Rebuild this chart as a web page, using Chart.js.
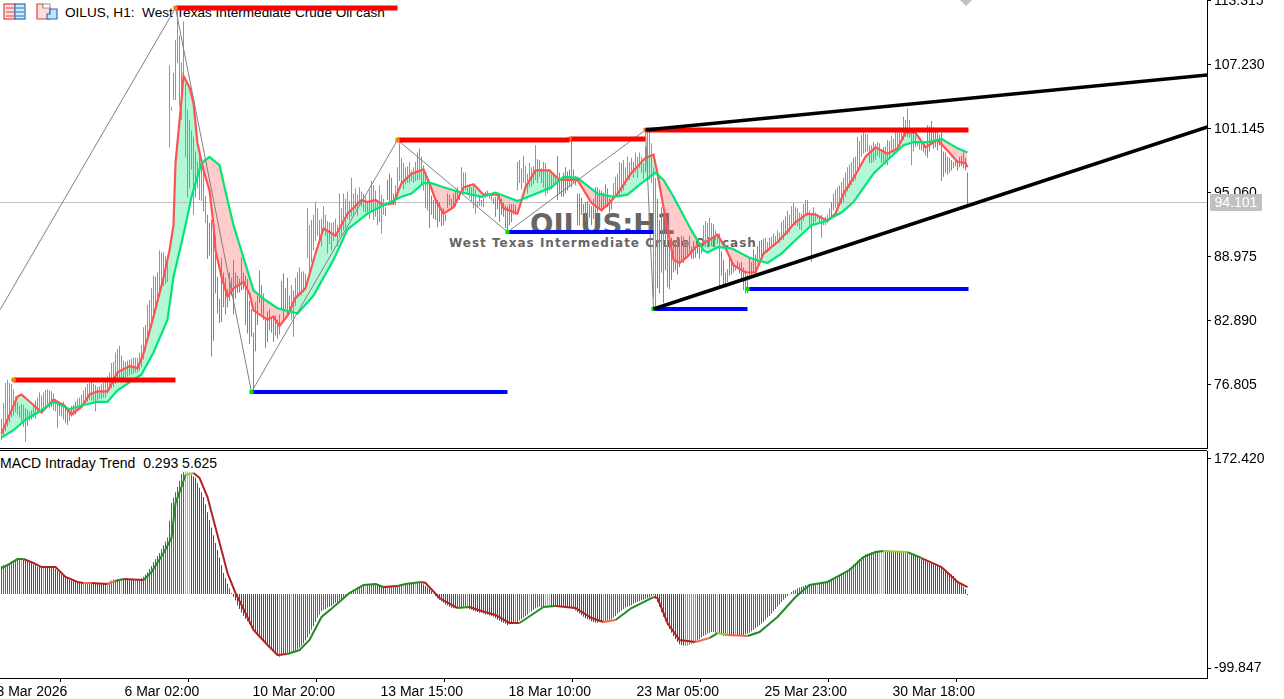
<!DOCTYPE html>
<html>
<head>
<meta charset="utf-8">
<title>OILUS H1</title>
<script src="https://cdn.jsdelivr.net/npm/chart.js@4/dist/chart.umd.min.js"></script>
<style>
  html, body { margin: 0; padding: 0; background: #fff; overflow: hidden; }
  #page { position: relative; width: 1284px; height: 699px; overflow: hidden; font-family: "DejaVu Sans", sans-serif; }
  canvas { position: absolute; left: 0; }
  #chart-main { top: 0; z-index: 2; }
  #chart-macd { top: 451px; z-index: 2; }
  .txt { position: absolute; white-space: pre; color: #000; z-index: 1; }
  #title { left: 65px; top: 5px; font: 13.6px "Liberation Sans", sans-serif; }
  #macd-title { left: 0; top: 455px; font: 14px "Liberation Sans", sans-serif; }
  #wm-big { left: 530px; top: 208px; font: bold 27.5px "DejaVu Sans", sans-serif; color: #666; }
  #wm-small { left: 449px; top: 236px; font: bold 12px "DejaVu Sans", sans-serif; color: #666; letter-spacing: 1px; }
  #price-tag { position: absolute; left: 1210px; top: 194px; width: 52px; height: 17px; background: #c0c0c0; color: #fff; z-index: 3; font: 14px/17px "Liberation Sans", sans-serif; text-align: center; }
  #sep { position: absolute; left: 0; top: 450px; width: 1207px; height: 1px; background: #000; }
  #icons { position: absolute; left: 0; top: 0; z-index: 1; }
</style>
</head>
<body>
<div id="page">
  <svg id="icons" width="980" height="24">
    <rect x="4" y="4" width="11" height="15" fill="#fdd" stroke="#e04040" stroke-width="1.2"/>
    <rect x="15" y="4" width="10" height="15" fill="#cfe8ff" stroke="#2070b8" stroke-width="1.2"/>
    <path d="M6 8h8M6 12h8M6 16h8" stroke="#e04040"/>
    <path d="M16 8h8M16 12h8M16 16h8" stroke="#2070b8"/>
    <path d="M37 4h6v3h7v12H37z" fill="#fdd" stroke="#e04040" stroke-width="1.2"/>
    <path d="M50 9h7v10H47v-5h3z" fill="#bfe2ff" stroke="#2070b8" stroke-width="1.2"/>
    <rect x="43" y="4" width="7" height="4" fill="#fff" stroke="#999"/>
    <polygon points="960,0 972,0 966,6" fill="#c0c0c0"/>
  </svg>
  <div class="txt" id="title">OILUS, H1:  West Texas Intermediate Crude Oil cash</div>
  <div class="txt" id="wm-big">OILUS:H1</div>
  <div class="txt" id="wm-small">West Texas Intermediate Crude Oil cash</div>
  <div class="txt" id="macd-title">MACD Intraday Trend  0.293 5.625</div>
  <div id="sep"></div>
  <canvas id="chart-main" width="1284" height="449"></canvas>
  <canvas id="chart-macd" width="1284" height="248"></canvas>
  <div id="price-tag">94.101</div>
</div>
<script>
// price axis
const priceTicks = [113.315, 107.23, 101.145, 95.06, 88.975, 82.89, 76.805];
const lastPrice = 94.15;

// time axis, bar positions of the labels
const timeTicks = [-2.5, 61.5, 125.5, 189.5, 253.5, 317.5, 381.5, 445.5];
const timeLabels = ['3 Mar 2026', '6 Mar 02:00', '10 Mar 20:00', '13 Mar 15:00', '18 Mar 10:00', '23 Mar 05:00', '25 Mar 23:00', '30 Mar 18:00'];

// H1 bars
const barHigh = [
  73.6,75.1,77.0,77.3,77.0,76.9,76.4,75.7,75.2,74.8,75.0,74.9,74.6,74.5,74.3,74.4,
  74.9,75.3,75.6,76.1,75.8,76.1,76.3,76.4,76.3,76.2,76.0,75.5,75.1,74.9,75.0,75.2,
  74.9,74.7,74.6,74.8,74.9,75.2,75.5,75.6,75.9,76.3,76.6,76.9,77.0,77.1,76.9,76.8,
  76.6,76.7,76.9,77.0,77.1,77.6,78.0,78.9,79.0,79.9,80.2,80.5,79.6,79.1,79.0,79.1,
  79.2,79.3,79.4,79.4,79.4,79.9,80.6,82.3,82.5,84.4,84.9,86.0,87.2,87.1,87.5,89.6,
  89.4,89.4,89.1,89.0,107.2,103.2,106.5,109.6,112.6,110.0,107.5,111.4,105.5,103.0,102.0,101.0,
  100.4,99.0,98.0,98.5,98.2,97.5,94.8,93.0,92.2,92.5,92.0,91.0,87.1,85.0,88.9,87.5,
  87.0,85.9,87.5,87.0,88.7,87.5,87.2,86.9,88.9,87.5,87.2,86.9,84.8,84.0,81.8,84.7,
  85.3,87.7,86.3,85.5,83.3,83.8,84.0,83.2,83.4,83.4,83.0,83.5,86.7,87.4,86.0,87.0,
  85.3,86.3,85.8,87.0,87.5,88.0,87.6,87.6,87.4,93.6,92.0,92.5,93.0,94.2,93.6,92.5,
  92.6,93.8,93.0,92.4,92.3,92.2,92.3,92.6,92.0,95.0,93.6,95.0,94.5,95.2,94.3,96.5,
  95.0,95.5,94.9,95.6,95.2,95.0,94.7,94.3,95.4,96.2,95.8,95.3,94.4,95.8,94.9,94.5,
  93.7,96.3,96.9,96.5,95.0,95.8,97.5,99.8,98.4,97.9,97.5,97.6,98.0,97.2,97.5,98.0,
  98.9,99.3,98.5,97.7,97.0,96.3,95.9,94.8,94.4,94.5,94.4,94.2,93.4,93.6,93.0,95.0,
  94.9,94.5,95.0,95.3,95.6,95.0,97.5,97.0,97.0,95.8,95.9,95.6,95.8,95.4,94.3,94.9,
  94.4,94.6,95.2,95.3,95.0,94.9,94.6,94.7,94.6,95.0,94.5,94.2,93.9,93.8,94.0,94.0,
  94.0,93.9,98.0,98.2,97.4,98.6,97.6,96.9,97.9,97.5,97.6,99.6,98.3,98.2,97.4,98.0,
  97.9,97.3,97.0,97.0,96.8,96.6,98.6,97.0,96.5,97.0,97.5,97.1,97.3,100.1,97.3,96.7,
  95.0,95.0,94.6,94.0,94.2,94.3,94.0,93.8,94.5,95.6,95.6,95.4,95.3,95.1,95.9,95.5,
  94.5,94.3,96.0,96.6,96.9,98.0,97.9,98.2,97.5,98.5,98.0,98.4,98.0,98.9,98.5,98.9,
  98.5,97.9,99.5,100.9,101.0,99.8,97.5,96.5,94.5,92.5,93.7,92.9,93.1,91.2,91.0,90.8,
  90.0,90.5,90.6,90.7,91.0,90.9,90.4,90.6,91.0,90.0,90.5,90.0,90.2,89.9,90.3,92.0,
  92.4,92.2,92.7,92.2,92.1,91.5,91.0,91.2,89.5,88.7,87.5,87.8,89.0,88.7,88.3,88.2,
  88.6,88.4,88.5,88.0,87.7,87.3,88.9,88.5,89.7,89.2,90.0,90.5,90.6,90.7,90.8,90.4,
  90.8,90.9,91.2,91.0,91.5,91.3,92.3,92.5,92.8,93.4,93.0,93.8,94.1,93.7,93.6,93.2,
  93.1,94.0,94.4,94.4,93.4,93.0,93.7,93.2,93.0,92.8,93.0,92.6,92.8,93.0,93.6,94.2,
  95.0,95.4,95.6,95.8,96.1,96.5,97.0,97.5,97.8,98.0,98.4,98.5,100.4,100.0,100.6,100.8,
  100.7,100.6,99.6,99.6,99.9,99.7,99.9,99.8,99.2,99.4,99.5,100.1,100.0,100.5,100.2,100.9,
  100.8,101.3,101.2,102.3,102.0,103.1,102.0,101.0,100.9,100.6,100.0,99.9,99.8,99.6,99.4,101.5,
  101.4,101.9,101.3,101.0,100.9,100.6,100.8,99.0,98.9,98.5,98.4,98.2,98.0,98.2,98.2,98.5,98.6,98.9,98.4,97.0
];
const barLow = [
  71.6,72.0,72.4,72.8,73.2,73.7,73.9,74.2,74.0,73.7,73.3,72.8,71.4,72.9,73.4,73.5,
  73.7,73.6,74.0,74.2,74.5,74.6,74.7,74.8,74.6,74.7,74.4,74.3,72.7,73.9,73.8,73.5,
  73.2,73.0,73.4,73.8,73.9,74.0,74.5,74.6,74.7,74.9,75.1,75.2,75.4,75.3,75.2,74.3,
  75.3,75.5,75.5,75.6,75.6,76.0,76.3,76.5,76.6,76.9,77.1,77.2,77.3,77.4,77.5,77.6,
  77.7,77.8,77.9,78.0,78.0,78.2,78.5,79.2,80.0,81.0,81.5,82.3,83.5,84.0,84.8,85.2,
  85.9,86.2,86.4,86.6,99.4,102.9,103.9,103.9,107.4,103.3,102.0,106.0,98.5,94.6,95.5,97.3,
  93.0,94.6,95.5,94.4,94.3,93.3,92.2,88.8,89.1,79.5,81.0,85.5,83.6,82.7,82.8,84.2,
  83.5,84.2,84.8,85.3,83.5,85.0,85.6,85.6,85.8,85.9,82.5,81.7,80.7,81.4,76.2,80.0,
  82.5,84.6,83.5,83.0,80.3,80.9,82.0,81.8,80.9,81.5,81.2,81.6,83.9,83.0,84.0,83.3,
  83.5,83.0,81.4,84.3,85.0,85.2,85.3,85.6,85.8,88.9,87.0,88.5,89.6,90.5,91.0,90.4,
  90.0,91.4,91.0,89.3,90.2,89.6,90.5,90.9,90.0,90.8,91.0,91.5,91.7,92.6,92.5,92.8,
  93.0,93.5,92.9,94.0,93.8,93.3,93.2,93.0,92.6,93.3,92.5,92.8,92.0,92.3,91.2,93.0,
  92.9,94.4,94.3,94.0,93.9,93.9,94.6,96.2,96.0,95.4,95.9,96.0,96.0,96.2,96.0,96.2,
  96.3,96.3,95.8,95.3,93.6,93.4,91.7,93.0,92.6,92.5,91.8,92.3,91.9,92.0,92.4,93.6,
  93.9,93.5,93.6,93.8,94.4,94.4,95.0,95.0,95.3,94.9,94.6,94.3,93.6,93.1,93.7,93.8,
  93.8,93.7,94.6,94.7,94.5,94.3,94.0,92.8,93.5,92.3,93.0,92.8,91.7,91.5,92.0,92.3,
  93.0,93.0,95.3,96.0,95.4,96.0,95.5,95.0,95.6,95.7,95.9,96.3,96.0,96.6,96.0,95.6,
  94.8,95.0,95.3,95.4,95.9,96.0,94.4,95.0,94.7,94.7,95.0,95.3,95.6,95.6,96.0,95.8,
  92.0,92.0,93.0,93.2,92.4,92.8,92.7,92.0,92.6,93.1,93.2,93.6,93.3,93.5,93.8,93.7,
  93.2,93.5,94.7,94.8,95.0,94.9,95.1,95.3,95.8,96.3,96.3,96.9,96.5,97.0,96.5,97.4,
  97.0,96.4,97.0,97.2,96.3,96.0,85.1,84.1,86.0,85.5,87.5,84.6,87.7,86.1,85.9,86.8,
  87.5,87.7,87.3,88.0,88.5,88.4,88.8,88.9,89.2,88.8,88.8,88.9,89.3,88.8,89.3,90.4,
  89.9,89.9,90.3,90.0,90.5,90.6,90.2,86.1,87.2,86.4,86.1,86.6,87.2,87.3,87.5,87.7,
  87.8,87.4,86.6,85.8,85.5,85.5,86.8,87.0,87.5,87.4,88.4,88.8,88.8,89.3,89.5,89.4,
  89.6,89.9,90.0,90.1,90.2,90.3,90.6,90.6,91.0,91.1,91.3,91.7,92.2,92.0,91.9,91.6,
  91.5,92.4,93.0,92.9,92.0,88.5,92.0,92.3,92.6,92.2,90.8,92.0,92.0,92.2,92.6,92.7,
  93.4,93.6,93.6,94.0,94.0,94.2,94.7,95.2,95.5,95.8,96.1,96.3,97.2,97.5,98.5,98.8,
  98.9,99.0,97.9,97.9,98.0,98.2,98.6,98.4,97.9,98.0,97.8,97.7,98.3,98.9,98.9,99.2,
  99.3,99.7,100.0,100.1,100.4,100.4,100.3,97.7,99.0,99.4,99.5,99.2,99.1,98.9,98.6,98.4,
  99.0,99.7,99.3,99.4,99.1,99.6,96.2,96.6,97.0,96.8,97.0,97.2,97.4,97.6,97.2,97.5,97.6,97.4,97.2,93.9
];
// bar ranges printed red, the rest are green
const bearStart = [32, 103, 192, 214, 246, 278, 328, 360, 415, 463];
const bearEnd = [37, 144, 196, 229, 257, 305, 350, 381, 415, 483];

// fast average
const fastIdx = [0,8,10,16,20,26,31,35,40,44,48,53,58,64,68,71,76,81,84,86,87,90,91,94,96,98,101,104,106,107,110,113,116,121,124,126,133,136,139,143,147,152,157,161,167,173,180,183,187,191,196,200,205,211,214,217,221,226,231,236,241,248,251,258,262,267,274,279,288,295,300,304,308,315,322,326,328,331,336,339,343,347,354,358,362,366,372,377,381,388,392,397,403,407,413,417,421,427,432,437,443,448,452,457,462,468,473,478,482,483];
const fastVal = [72.2,75.7,75.9,74.9,74.2,75.4,74.9,74.0,74.7,75.9,76.2,76.2,78.0,78.6,78.4,79.8,83.3,87.0,89.6,92.0,97.9,103.9,106.2,105.1,103.6,99.8,97.2,95.3,92.0,89.6,87.1,85.2,86.0,86.6,85.5,83.9,83.0,83.3,82.4,83.4,85.1,86.0,89.3,91.7,91.0,93.1,94.4,94.2,94.4,93.9,94.1,96.0,96.9,97.3,96.0,94.4,93.1,93.7,95.6,95.9,94.9,94.9,93.6,93.1,95.6,97.2,97.2,96.3,96.3,94.1,93.4,94.1,95.0,97.0,98.4,98.7,96.9,93.7,88.7,88.4,89.0,89.9,90.6,91.1,89.8,88.2,87.5,87.5,89.3,90.4,91.2,92.3,93.1,93.0,92.4,93.1,95.0,96.8,98.5,99.4,98.8,99.3,100.8,100.8,99.4,100.1,99.1,98.0,97.9,97.5];

// slow average
const slowIdx = [0,6,12,20,26,34,41,48,53,58,70,76,83,86,90,92,95,100,104,109,113,116,121,126,131,138,148,156,166,173,183,191,200,205,211,215,221,228,240,247,258,266,275,281,288,298,306,313,320,327,331,336,345,351,353,358,365,374,383,390,396,405,411,420,426,436,443,451,456,463,470,478,483];
const slowVal = [71.8,72.5,73.5,74.4,75.2,74.5,74.9,75.2,75.2,76.3,77.8,79.9,83.0,87.1,90.3,92.0,94.7,97.9,98.5,97.7,94.4,92.0,88.9,85.8,85.0,84.1,83.6,85.3,88.7,91.6,93.1,93.9,94.7,95.0,96.0,96.0,95.6,95.2,94.7,95.1,94.3,94.9,95.6,96.6,96.5,95.0,94.7,94.9,96.0,97.0,96.3,94.7,91.5,89.6,89.4,89.9,89.8,88.9,88.4,89.3,90.4,92.0,92.3,93.2,94.2,96.9,98.2,99.6,99.9,99.9,100.2,99.3,98.9];

// zigzag turning points
const zigIdx = [-0.75, 87, 125, 198, 253, 322, 326];
const zigVal = [83.94, 112.65, 76.14, 100.1, 91.35, 101.05, 84.03];

// support and resistance levels
const levelFrom = [6, 87, 198, 284, 322, 125, 253, 326, 373];
const levelTo = [87, 198, 284, 322, 483.5, 253, 326, 373, 483.5];
const levelVal = [77.28, 112.65, 100.1, 100.2, 101.05, 76.14, 91.35, 84.03, 85.93];
const levelHigh = [true, true, true, true, true, false, false, false, false];

// trend lines
const trendFrom = [322, 326];
const trendFromVal = [101.05, 84.03];
const trendToVal = [106.28, 101.34];

// MACD pane
const macdTicks = [172.42, -99.847];
const histBase = -3.45;
const histVal = [
  33,34,35,36,37,39,40,42,42,42,42,41,40,39,38,37,
  35,34,32,32,32,32,32,32,32,32,31,29,27,25,22,20,
  18,17,15,14,13,12,12,11,11,11,11,11,11,10,10,10,
  10,10,10,10,11,12,13,14,15,15,16,16,16,16,15,15,
  15,15,15,15,15,15,17,19,22,25,29,33,38,42,46,50,
  55,60,65,70,92,115,122,129,136,144,153,155,156,156,155,152,
  150,148,141,135,129,123,113,103,93,83,73,63,54,44,34,24,
  17,10,4,-2,-7,-12,-18,-23,-28,-32,-36,-39,-43,-47,-50,-53,
  -56,-59,-62,-64,-67,-70,-72,-75,-78,-81,-84,-86,-84,-82,-82,-81,
  -80,-79,-78,-77,-75,-73,-71,-68,-64,-60,-56,-50,-45,-40,-34,-30,
  -26,-24,-23,-21,-20,-19,-17,-15,-14,-12,-10,-8,-6,-4,-2,0,
  1,3,5,6,7,8,8,9,9,9,9,10,8,7,6,6,
  6,6,7,7,7,7,8,8,9,9,10,10,11,11,12,12,
  12,12,11,9,7,5,3,0,-3,-6,-9,-11,-13,-15,-17,-18,
  -20,-21,-22,-22,-21,-21,-21,-20,-20,-22,-23,-24,-25,-26,-27,-28,
  -28,-29,-30,-30,-31,-32,-33,-35,-37,-38,-40,-41,-42,-44,-43,-42,
  -42,-42,-40,-38,-36,-34,-32,-30,-28,-26,-24,-22,-21,-20,-20,-19,
  -19,-19,-19,-19,-19,-19,-20,-20,-20,-20,-20,-21,-21,-22,-23,-25,
  -27,-29,-31,-33,-35,-36,-37,-39,-40,-41,-41,-40,-40,-39,-39,-38,
  -37,-36,-34,-32,-29,-27,-25,-23,-21,-20,-19,-18,-16,-15,-14,-13,
  -12,-11,-10,-9,-8,-6,-5,-9,-14,-20,-27,-33,-39,-44,-49,-54,
  -58,-62,-66,-69,-70,-71,-71,-71,-70,-69,-68,-66,-64,-62,-60,-58,
  -57,-55,-54,-53,-53,-54,-55,-56,-57,-58,-58,-58,-58,-58,-58,-58,
  -58,-58,-58,-57,-56,-55,-54,-52,-50,-48,-46,-44,-42,-40,-37,-34,
  -32,-29,-26,-23,-20,-17,-14,-11,-9,-6,-4,-1,1,2,4,5,
  6,7,8,8,9,9,10,10,11,11,12,12,12,13,14,15,
  16,17,19,20,22,24,26,28,30,32,35,37,40,42,44,46,
  48,49,50,51,51,52,52,53,53,52,52,52,52,52,52,52,
  52,52,52,52,51,50,49,48,47,46,45,43,42,41,40,39,
  37,36,35,34,33,32,31,30,28,26,24,22,20,17,14,11,9,6,3,-5
];
const macdIdx = [0,3,8,11,16,20,27,32,38,41,45,53,57,61,71,75,81,85,87,90,92,96,99,103,106,110,113,117,122,126,133,138,143,149,154,160,166,174,181,187,191,198,202,210,212,219,228,234,240,247,254,259,265,271,277,287,295,301,307,315,326,328,333,339,347,354,358,363,373,379,388,397,404,413,424,431,437,441,453,460,470,478,483];
const macdVal = [30.4,34.3,42.1,42.1,36.9,31.7,31.7,18.7,12.2,10.9,10.9,9.6,13.5,16.1,14.8,25.2,49.9,69.5,115,136,151.6,154.2,147.7,122.9,93,53.9,23.9,-2.1,-28.2,-50.3,-69.9,-82.9,-81.6,-76.4,-63.4,-33.4,-20.4,-2.1,8.3,9.6,5.7,7,9.6,12.2,10.9,-8.7,-21.7,-20.4,-25.6,-30.8,-41.2,-41.2,-30.8,-20.4,-19.1,-21.7,-34.7,-39.9,-37.3,-21.7,-7.4,-8.7,-41.2,-63.4,-66,-60.8,-54.3,-56.9,-58.2,-53,-33.4,-7.4,8.3,12.2,27.8,44.7,51.2,52.5,51.2,43.4,31.7,12.2,5.625];
// colour runs of the histogram: last bar of the run, colour key
const runEnd = [9,10,20,21,40,41,43,52,53,59,60,66,67,91,94,138,139,144,145,181,182,187,192,193,200,201,206,207,209,227,232,233,256,257,263,264,271,274,284,286,300,301,325,341,347,357,358,362,363,366,367,372,407,408,438,441,449,453,454,483];
const runKey = 'GYRTRTGRTGYRTGYRTGYGYGRTGYGYGRGTRTGYGYRGRTGRTGYRTRTRGYGYRGYR';
const runColors = { G: '#228b22', Y: '#9acd32', R: '#b22222', T: '#ff6347' };

const bullBar = '#00e676';
const bearBar = '#ff5252';
const bullFill = 'rgba(0, 230, 118, 0.3)';
const bearFill = 'rgba(255, 82, 82, 0.3)';
const axisFont = { family: 'Liberation Sans', size: 14 };

const barColors = barHigh.map((_, i) => (bearStart.some((s, k) => i >= s && i <= bearEnd[k]) ? bearBar : bullBar));
const histColors = histVal.map((_, i) => runColors[runKey[runEnd.findIndex((e) => i <= e)]]);

const pairs = (xs, ys) => xs.map((x, i) => ({ x, y: ys[i] }));

// keeps the plot area where the terminal has it, tick labels may overflow
const noMargins = (axis) => {
    axis.paddingLeft = 0;
    axis.paddingRight = 0;
    axis.paddingTop = 0;
    axis.paddingBottom = 0;
};

const mainSets = [
    {
        type: 'line',
        data: [{ x: -0.75, y: lastPrice }, { x: 603, y: lastPrice }],
        borderColor: '#c0c0c0',
        borderWidth: 1,
        pointRadius: 0,
        order: 9,
    },
    {
        type: 'bar',
        data: barHigh.map((h, i) => ({ x: i, y: [barLow[i], h] })),
        backgroundColor: barColors,
        barThickness: 1,
        inflateAmount: 0,
        order: 8,
    },
    {
        type: 'line',
        data: pairs(fastIdx, fastVal),
        borderColor: bearBar,
        borderWidth: 2.2,
        pointRadius: 0,
        fill: { target: 3, above: bullFill, below: bearFill },
        order: 6,
    },
    {
        type: 'line',
        data: pairs(slowIdx, slowVal),
        borderColor: bullBar,
        borderWidth: 2.2,
        pointRadius: 0,
        order: 5,
    },
    {
        type: 'line',
        data: pairs(zigIdx, zigVal),
        borderColor: '#808080',
        borderWidth: 1,
        pointRadius: 0,
        order: 4,
    },
];

levelVal.forEach((v, i) => {
    mainSets.push({
        type: 'line',
        data: [{ x: levelFrom[i], y: v }, { x: levelTo[i], y: v }],
        borderColor: levelHigh[i] ? '#ff0000' : '#0000ff',
        borderWidth: levelHigh[i] ? 5 : 4,
        pointStyle: 'rect',
        pointRadius: [3, 0],
        pointBorderWidth: 0,
        pointBackgroundColor: levelHigh[i] ? '#ff8000' : '#00e000',
        order: 2,
    });
});

trendFrom.forEach((x, i) => {
    mainSets.push({
        type: 'line',
        data: [{ x, y: trendFromVal[i] }, { x: 603, y: trendToVal[i] }],
        borderColor: '#000',
        borderWidth: 3.5,
        pointRadius: 0,
        order: 1,
    });
});

const commonPlugins = {
    legend: { display: false },
    tooltip: { enabled: false },
    filler: { drawTime: 'beforeDatasetsDraw' },
};

new Chart(document.getElementById('chart-main'), {
    type: 'bar',
    data: { datasets: mainSets },
    options: {
        responsive: false,
        animation: false,
        devicePixelRatio: 1,
        events: [],
        layout: { padding: 0, autoPadding: false },
        plugins: commonPlugins,
        scales: {
            x: {
                type: 'linear',
                offset: false,
                min: -0.75,
                max: 602.75,
                grid: { display: false },
                border: { color: '#000' },
                ticks: { display: false },
                afterFit: (axis) => { axis.height = 1; noMargins(axis); },
            },
            y: {
                position: 'right',
                min: 70.81,
                max: 113.41,
                grid: { drawOnChartArea: false, tickLength: 4, color: '#000' },
                border: { color: '#000' },
                ticks: {
                    color: '#000',
                    font: axisFont,
                    padding: 3,
                    autoSkip: false,
                    callback: (v) => Number(v).toFixed(3),
                },
                afterBuildTicks: (axis) => { axis.ticks = priceTicks.map((value) => ({ value })); },
                afterFit: (axis) => { axis.width = 77; noMargins(axis); },
            },
        },
    },
});

new Chart(document.getElementById('chart-macd'), {
    type: 'bar',
    data: {
        datasets: [
            {
                type: 'bar',
                data: pairs(histVal.map((_, i) => i), histVal),
                base: histBase,
                backgroundColor: histColors,
                barThickness: 1,
                inflateAmount: 0,
                order: 2,
            },
            {
                type: 'line',
                data: pairs(macdIdx, macdVal),
                borderWidth: 2,
                pointRadius: 0,
                borderColor: '#228b22',
                segment: { borderColor: (ctx) => histColors[macdIdx[ctx.p0DataIndex]] },
                order: 1,
            },
        ],
    },
    options: {
        responsive: false,
        animation: false,
        devicePixelRatio: 1,
        events: [],
        layout: { padding: 0, autoPadding: false },
        plugins: commonPlugins,
        scales: {
            x: {
                type: 'linear',
                offset: false,
                min: -0.75,
                max: 602.75,
                grid: { drawOnChartArea: false, tickLength: 4, color: '#000' },
                border: { color: '#000' },
                ticks: {
                    color: '#000',
                    font: axisFont,
                    padding: 2,
                    align: 'start',
                    autoSkip: false,
                    maxRotation: 0,
                    minRotation: 0,
                    callback: (v, i) => timeLabels[i],
                },
                afterBuildTicks: (axis) => { axis.ticks = timeTicks.map((value) => ({ value })); },
                afterFit: (axis) => { axis.height = 21; noMargins(axis); },
            },
            y: {
                position: 'right',
                min: -112.87,
                max: 182.84,
                grid: { drawOnChartArea: false, tickLength: 4, color: '#000' },
                border: { color: '#000' },
                ticks: {
                    color: '#000',
                    font: axisFont,
                    padding: 3,
                    autoSkip: false,
                    callback: (v) => Number(v).toFixed(3),
                },
                afterBuildTicks: (axis) => { axis.ticks = macdTicks.map((value) => ({ value })); },
                afterFit: (axis) => { axis.width = 77; noMargins(axis); },
            },
        },
    },
});
</script>
</body>
</html>
